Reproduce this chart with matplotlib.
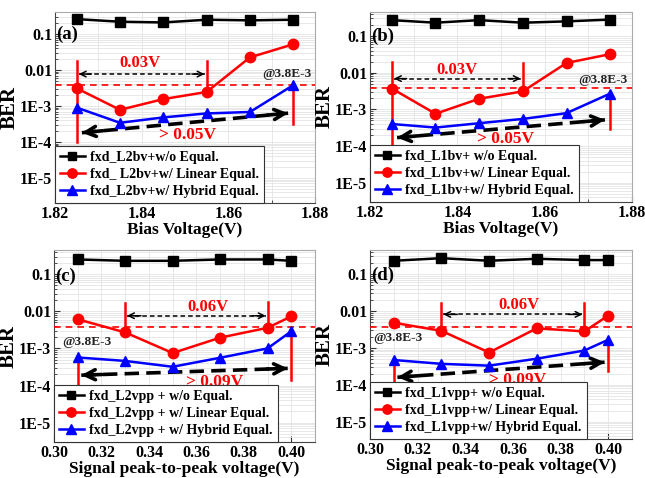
import numpy as np
import matplotlib
matplotlib.use("Agg")
import matplotlib.pyplot as plt
from matplotlib.ticker import FixedLocator, FixedFormatter, LogLocator, NullFormatter

plt.rcParams['font.family'] = ['Liberation Serif', 'DejaVu Serif']
plt.rcParams['font.weight'] = 'bold'

# x positions
x_bias = [1.825, 1.835, 1.845, 1.855, 1.865, 1.875]
x_vpp = [0.31, 0.33, 0.35, 0.37, 0.39, 0.40]

# BER
a_wo = [0.26, 0.22, 0.21, 0.25, 0.24, 0.25]
a_lin = [3.1e-3, 7.8e-4, 1.55e-3, 2.45e-3, 0.0225, 0.052]
a_hyb = [9e-4, 3.4e-4, 4.8e-4, 6.2e-4, 6.8e-4, 3.8e-3]

b_wo = [0.27, 0.23, 0.27, 0.23, 0.25, 0.28]
b_lin = [3.7e-3, 7.6e-4, 1.95e-3, 3.1e-3, 0.0184, 0.032]
b_hyb = [4.0e-4, 3.2e-4, 4.2e-4, 5.5e-4, 7.9e-4, 2.7e-3]

c_wo = [0.25, 0.23, 0.23, 0.25, 0.25, 0.23]
c_lin = [6.1e-3, 2.7e-3, 7.5e-4, 1.95e-3, 3.6e-3, 7.3e-3]
c_hyb = [5.7e-4, 4.6e-4, 3.2e-4, 5.6e-4, 1.0e-3, 2.9e-3]

d_wo = [0.23, 0.27, 0.23, 0.26, 0.24, 0.24]
d_lin = [4.8e-3, 2.9e-3, 7.5e-4, 3.4e-3, 2.8e-3, 7.5e-3]
d_hyb = [4.7e-4, 3.7e-4, 3.3e-4, 5.1e-4, 8.5e-4, 1.66e-3]

fec_limit = 3.8e-3

ytick_vals = [1e-5, 1e-4, 1e-3, 1e-2, 1e-1]
ytick_labels = ['1E-5', '1E-4', '1E-3', '0.01', '0.1']

labels_a = ['fxd_L2bv+w/o Equal.', 'fxd_ L2bv+w/ Linear Equal.', 'fxd_L2bv+w/ Hybrid Equal.']
labels_b = ['fxd_L1bv+ w/o Equal.', 'fxd_L1bv+w/ Linear Equal.', 'fxd_L1bv+w/ Hybrid Equal.']
labels_c = ['fxd_L2vpp + w/o Equal.', 'fxd_L2vpp + w/ Linear Equal.', 'fxd_L2vpp + w/ Hybrid Equal.']
labels_d = ['fxd_L1vpp+ w/o Equal.', 'fxd_L1vpp+w/ Linear Equal.', 'fxd_L1vpp+w/ Hybrid Equal.']

W, H = 645, 478
fig = plt.figure(figsize=(W / 100, H / 100), dpi=100)


def box(l, r, t, b):
    return [l / W, (H - b) / H, (r - l) / W, (b - t) / H]


def head(ax, p_from, p_to, lw, ms):
    # solid arrow head at p_to, pointing along p_from -> p_to (log-y)
    x0, y0 = p_from
    x1, y1 = p_to
    f = 0.9
    xm = x0 + (x1 - x0) * f
    ym = 10 ** (np.log10(y0) + (np.log10(y1) - np.log10(y0)) * f)
    ax.annotate('', xy=(x1, y1), xytext=(xm, ym),
                arrowprops=dict(arrowstyle='->', lw=lw, color='black',
                                mutation_scale=ms, shrinkA=0, shrinkB=0))


def darrow(ax, p0, p1, lw, ms, dash):
    ax.plot([p0[0], p1[0]], [p0[1], p1[1]], color='black', lw=lw,
            dashes=dash, zorder=4)
    head(ax, p0, p1, lw, ms)
    head(ax, p1, p0, lw, ms)


def panel(rect, x, wo, lin, hyb, labels, xlim, ylim, xticks, xlabel, tag, tag_y,
          vlines, small, big, small_txt, big_txt, fec_txt):
    ax = fig.add_axes(rect)
    ax.set_yscale('log')
    ax.plot(x, wo, color='black', marker='s', ms=6.5, lw=1.8, label=labels[0], zorder=5)
    ax.plot(x, lin, color='red', marker='o', ms=7.5, lw=1.8, label=labels[1], zorder=5)
    ax.plot(x, hyb, color='blue', marker='^', ms=7.5, lw=1.8, label=labels[2], zorder=5)
    ax.axhline(fec_limit, color='red', lw=1.2, dashes=(4, 3), zorder=3)

    for xv, y0, y1 in vlines:
        ax.plot([xv, xv], [y0, y1], color='red', lw=1.8, zorder=4)
    darrow(ax, small[0], small[1], 1.1, 10, (3, 2))
    darrow(ax, big[0], big[1], 2.6, 18, (4, 2))

    ax.text(small_txt[0], small_txt[1], small_txt[2], color='red', fontsize=12,
            fontweight='bold', ha='center', va='center')
    ax.text(big_txt[0], big_txt[1], big_txt[2], color='red', fontsize=12.5,
            fontweight='bold', ha='center', va='center')
    ax.text(fec_txt[0], fec_txt[1], '@3.8E-3', color='#222222', fontsize=9.5,
            fontweight='bold', ha='center', va='center')
    ax.text(xlim[0] + (xlim[1] - xlim[0]) * 0.006, tag_y, tag, fontsize=13.5,
            fontweight='bold', ha='left', va='center')

    ax.set_xlim(*xlim)
    ax.set_ylim(*ylim)
    ax.set_xticks(xticks)
    ax.set_xticklabels(['%.2f' % v for v in xticks])
    ax.yaxis.set_major_locator(FixedLocator(ytick_vals))
    ax.yaxis.set_major_formatter(FixedFormatter(ytick_labels))
    ax.yaxis.set_minor_locator(LogLocator(base=10, subs=np.arange(2, 10), numticks=20))
    ax.yaxis.set_minor_formatter(NullFormatter())
    ax.set_xticks([v + (xticks[1] - xticks[0]) / 2 for v in xticks[:-1]], minor=True)
    ax.tick_params(which='both', direction='in', labelsize=11.5, pad=2,
                   colors='#333333', labelcolor='black')
    ax.tick_params(which='major', length=4, width=0.8)
    ax.tick_params(which='minor', length=2, width=0.6)
    ax.grid(True, which='both', color='#e4e4e4', lw=0.6, zorder=0)
    for s in ['left', 'bottom']:
        ax.spines[s].set_color('#444444')
    for s in ['top', 'right']:
        ax.spines[s].set_color('#aaaaaa')
    ax.set_ylabel('BER', fontsize=15, fontweight='bold', labelpad=0)
    ax.set_xlabel(xlabel, fontsize=12.5, fontweight='bold', labelpad=0)
    leg = ax.legend(loc='lower left', fontsize=10, frameon=True, fancybox=False,
                    edgecolor='#333333', framealpha=1, borderaxespad=0,
                    handlelength=1.8, handletextpad=0.4, labelspacing=0.3,
                    borderpad=0.35, markerscale=0.9)
    leg.get_frame().set_linewidth(0.8)
    for t in leg.get_texts():
        t.set_fontweight('bold')
    return ax


bias_ticks = [1.82, 1.84, 1.86, 1.88]
vpp_ticks = [0.30, 0.32, 0.34, 0.36, 0.38, 0.40]

panel(box(55, 315, 12, 203), x_bias, a_wo, a_lin, a_hyb, labels_a,
      (1.82, 1.88), (2.0e-6, 0.41), bias_ticks, 'Bias Voltage(V)', '(a)', 0.1,
      [(1.825, 0.0178, 1e-4), (1.855, 0.0178, 2.45e-3), (1.875, 3.8e-3, 3.2e-4)],
      [(1.8255, 7.7e-3), (1.8545, 7.7e-3)],
      [(1.8262, 1.8e-4), (1.8738, 6.3e-4)],
      (1.8395, 0.016, '0.03V'), (1.8505, 1.56e-4, '> 0.05V'), (1.8734, 7.7e-3))

panel(box(370, 632, 12, 202), x_bias, b_wo, b_lin, b_hyb, labels_b,
      (1.82, 1.88), (3.0e-6, 0.45), bias_ticks, 'Bias Voltage(V)', '(b)', 0.1,
      [(1.825, 0.0195, 1e-4), (1.855, 0.0186, 3.1e-3), (1.875, 2.7e-3, 3.0e-4)],
      [(1.8255, 6.9e-3), (1.8545, 6.9e-3)],
      [(1.8262, 1.7e-4), (1.8738, 5.2e-4)],
      (1.840, 0.012, '0.03V'), (1.8511, 1.6e-4, '> 0.05V'), (1.8734, 6.4e-3))

panel(box(54, 315, 250, 442), x_vpp, c_wo, c_lin, c_hyb, labels_c,
      (0.30, 0.41), (3.0e-6, 0.45), vpp_ticks, 'Signal peak-to-peak voltage(V)', '(c)', 0.09,
      [(0.31, 5.7e-4, 1e-4), (0.33, 0.0166, 2.7e-3), (0.39, 0.0175, 3.6e-3), (0.40, 2.9e-3, 1.45e-4)],
      [(0.3308, 7.6e-3), (0.3892, 7.6e-3)],
      [(0.3115, 1.9e-4), (0.3985, 2.9e-4)],
      (0.3649, 0.0134, '0.06V'), (0.3675, 1.26e-4, '> 0.09V'), (0.314, 1.45e-3))

panel(box(370, 632, 250, 439), x_vpp, d_wo, d_lin, d_hyb, labels_d,
      (0.30, 0.41), (3.4e-6, 0.45), vpp_ticks, 'Signal peak-to-peak voltage(V)', '(d)', 0.09,
      [(0.31, 4.7e-4, 1e-4), (0.33, 0.016, 2.9e-3), (0.39, 0.016, 2.8e-3), (0.40, 1.66e-3, 2.4e-4)],
      [(0.3308, 8.1e-3), (0.3892, 8.1e-3)],
      [(0.3115, 1.6e-4), (0.3985, 4.1e-4)],
      (0.3625, 0.0145, '0.06V'), (0.3618, 1.37e-4, '> 0.09V'), (0.3118, 1.8e-3))

fig.savefig('out.png', dpi=100)
